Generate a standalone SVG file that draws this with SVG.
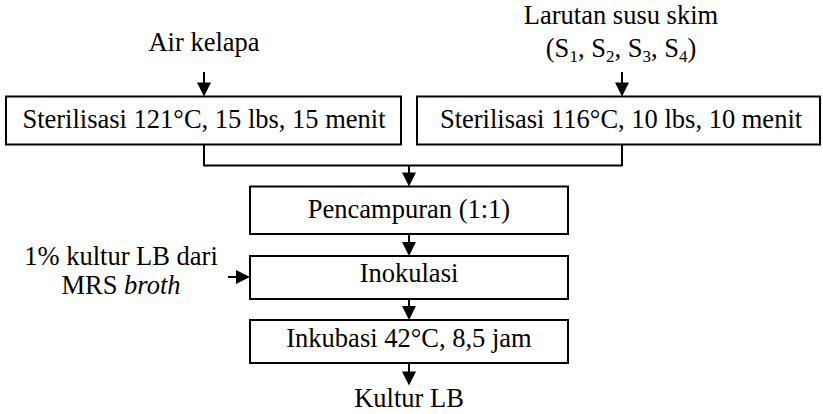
<svg xmlns="http://www.w3.org/2000/svg" xmlns:xlink="http://www.w3.org/1999/xlink" width="823" height="414" viewBox="0 0 823 414">
  <style>
    text { font-size: 26.5px; fill: #000; text-anchor: middle; }
    .box { fill: #fff; stroke: #000; stroke-width: 2; }
    .wire { fill: none; stroke: #000; stroke-width: 2; }
    .sub { font-size: 17px; }
  </style>
  <defs>
    <!-- downward arrowhead, tip at the origin -->
    <path id="head-down" d="M-7,-14 L7,-14 L0,0 Z" fill="#000"/>
    <!-- rightward arrowhead, tip at the origin -->
    <path id="head-right" d="M-14,-7 L-14,7 L0,0 Z" fill="#000"/>
  </defs>

  <g font-family="Liberation Serif, Times New Roman, Times, serif">
    <!-- input labels -->
    <g id="label-air-kelapa">
      <text x="204" y="51">Air kelapa</text>
    </g>
    <g id="label-susu-skim">
      <text x="621" y="24">Larutan susu skim</text>
      <text x="621" y="57">(S<tspan class="sub" dy="5">1</tspan><tspan dy="-5">, S</tspan><tspan class="sub" dy="5">2</tspan><tspan dy="-5">, S</tspan><tspan class="sub" dy="5">3</tspan><tspan dy="-5">, S</tspan><tspan class="sub" dy="5">4</tspan><tspan dy="-5">)</tspan></text>
    </g>
    <g id="label-kultur-mrs">
      <text x="121" y="265">1% kultur LB dari</text>
      <text x="121" y="294">MRS <tspan font-style="italic">broth</tspan></text>
    </g>

    <!-- process steps -->
    <g id="sterilisasi-121">
      <rect class="box" x="6" y="96.5" width="395" height="48"/>
      <text x="204" y="128">Sterilisasi 121°C, 15 lbs, 15 menit</text>
    </g>
    <g id="sterilisasi-116">
      <rect class="box" x="417" y="96.5" width="403" height="48"/>
      <text x="621" y="128">Sterilisasi 116°C, 10 lbs, 10 menit</text>
    </g>
    <g id="pencampuran">
      <rect class="box" x="250" y="186.5" width="318" height="47.5"/>
      <text x="409" y="218">Pencampuran (1:1)</text>
    </g>
    <g id="inokulasi">
      <rect class="box" x="250" y="256" width="318" height="43"/>
      <text x="409" y="282">Inokulasi</text>
    </g>
    <g id="inkubasi">
      <rect class="box" x="250" y="320" width="318" height="43"/>
      <text x="409" y="347">Inkubasi 42°C, 8,5 jam</text>
    </g>
    <g id="kultur-lb">
      <text x="409" y="407">Kultur LB</text>
    </g>
  </g>

  <!-- connectors -->
  <g id="connectors">
    <path class="wire" d="M204,72 V90"/>
    <use xlink:href="#head-down" x="204" y="96.5"/>
    <path class="wire" d="M622,72 V90"/>
    <use xlink:href="#head-down" x="622" y="96.5"/>
    <path class="wire" d="M204,144.5 V165.5 H622 V144.5"/>
    <path class="wire" d="M409,165.5 V180"/>
    <use xlink:href="#head-down" x="409" y="186.5"/>
    <path class="wire" d="M409,234 V250"/>
    <use xlink:href="#head-down" x="409" y="256"/>
    <path class="wire" d="M409,299 V314"/>
    <use xlink:href="#head-down" x="409" y="320"/>
    <path class="wire" d="M409,363 V379"/>
    <use xlink:href="#head-down" x="409" y="385.5"/>
    <path class="wire" d="M228,277 H244"/>
    <use xlink:href="#head-right" x="250" y="277"/>
  </g>
</svg>
